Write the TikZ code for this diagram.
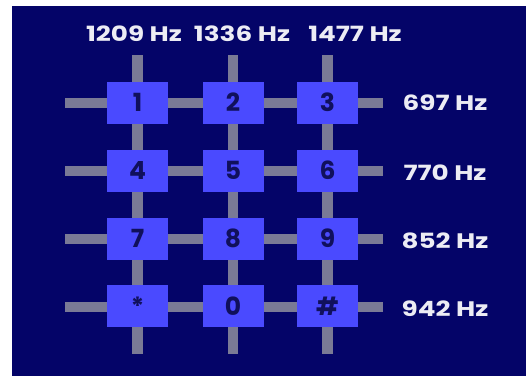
\documentclass[tikz,border=0pt]{standalone}
\usepackage{fontspec}
\setmainfont{Poppins}
\newfontfamily\labfont{Poppins}[FakeStretch=1.25]
\definecolor{bgnavy}{RGB}{4,4,104}
\definecolor{keyblue}{RGB}{74,74,255}
\definecolor{bargray}{RGB}{122,122,150}
\definecolor{labwhite}{RGB}{236,236,244}
\definecolor{digitnavy}{RGB}{16,16,92}
\begin{document}
\begin{tikzpicture}[x=1pt,y=-1pt,
  keybox/.style={fill=keyblue,draw=none,minimum width=61pt,minimum height=42pt,inner sep=0pt,
    font=\fontsize{25}{25}\selectfont\bfseries,text=digitnavy},
  freqlabel/.style={font=\labfont\fontsize{21}{21}\selectfont\bfseries,text=labwhite,inner sep=0pt},
  bar/.style={draw=bargray,line width=10.5pt}]
\useasboundingbox (0,0) rectangle (526,376);
\fill[white] (0,0) rectangle (526,376);
\fill[bgnavy] (12,6) rectangle (526,376);
% column and row bar end points
\foreach \c/\x in {a/137.5,b/233,c/327.5}{
  \coordinate (top\c) at (\x,55);
  \coordinate (bot\c) at (\x,354);
}
\foreach \r/\y in {1/103,2/171,3/239,4/307}{
  \coordinate (left\r) at (65,\y);
  \coordinate (right\r) at (383,\y);
}
\foreach \c in {a,b,c}{\draw[bar] (top\c) -- (bot\c);}
\foreach \r in {1,2,3,4}{\draw[bar] (left\r) -- (right\r);}
% keys
\node[keybox] (k1) at (137.5,102.5) {1};
\node[keybox] (k2) at (233,102.5) {2};
\node[keybox] (k3) at (327.5,102.5) {3};
\node[keybox] (k4) at (137.5,170.5) {4};
\node[keybox] (k5) at (233,170.5) {5};
\node[keybox] (k6) at (327.5,170.5) {6};
\node[keybox] (k7) at (137.5,238.5) {7};
\node[keybox] (k8) at (233,238.5) {8};
\node[keybox] (k9) at (327.5,238.5) {9};
\node[keybox] (kstar) at (137.5,306) {*};
\node[keybox] (k0) at (233,306) {0};
\node[keybox] (khash) at (327.5,306) {\#};
% column frequencies
\node[freqlabel] (f1209) at (134,34) {1209 Hz};
\node[freqlabel] (f1336) at (242,34) {1336 Hz};
\node[freqlabel] (f1477) at (355,34) {1477 Hz};
% row frequencies
\node[freqlabel] (f697) at (445,103) {697 Hz};
\node[freqlabel] (f770) at (445,173) {770 Hz};
\node[freqlabel] (f852) at (445,241) {852 Hz};
\node[freqlabel] (f942) at (445,309) {942 Hz};
\end{tikzpicture}
\end{document}
